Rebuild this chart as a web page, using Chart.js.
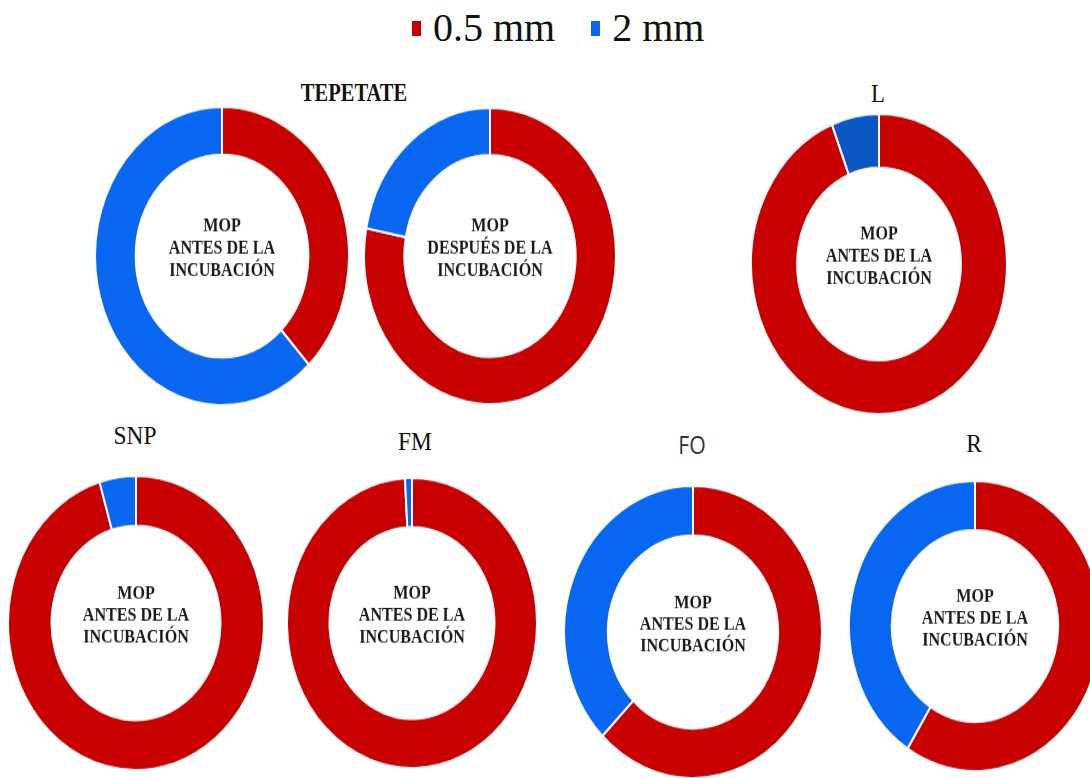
<!DOCTYPE html>
<html lang="es">

<head>
    <meta charset="UTF-8">
    <title>MOP 0.5 mm / 2 mm</title>
    <script src="https://cdn.jsdelivr.net/npm/chart.js"></script>
    <style>
        body {
            margin: 0;
            background: #fff;
        }

        #lienzo {
            position: relative;
            width: 1090px;
            height: 778px;
            overflow: hidden;
        }

        .dona {
            position: absolute;
            transform-origin: 50% 50%;
        }

        .titulo {
            position: absolute;
            line-height: 1;
            white-space: nowrap;
            color: #111;
            font-family: "Liberation Serif", "DejaVu Serif", serif;
        }

        #leyenda {
            position: absolute;
            left: 412px;
            top: 8px;
            display: flex;
            align-items: center;
            font-family: "Liberation Serif", serif;
            font-size: 40px;
            line-height: 1;
            color: #111;
        }

        #leyenda .item {
            display: flex;
            align-items: center;
            margin-right: 36px;
        }

        #leyenda .cuadro {
            width: 9px;
            height: 15px;
            margin-right: 12px;
        }
    </style>
</head>

<body>
    <div id="lienzo">
        <div id="leyenda"></div>
    </div>

    <script>
        // datos
        const categories = ['0.5 mm', '2 mm'];
        const titles = ['TEPETATE', 'L', 'SNP', 'FM', 'FO', 'R'];
        const centerLabels = [
            ['MOP', 'ANTES DE LA', 'INCUBACIÓN'],
            ['MOP', 'DESPUÉS DE LA', 'INCUBACIÓN'],
            ['MOP', 'ANTES DE LA', 'INCUBACIÓN'],
            ['MOP', 'ANTES DE LA', 'INCUBACIÓN'],
            ['MOP', 'ANTES DE LA', 'INCUBACIÓN'],
            ['MOP', 'ANTES DE LA', 'INCUBACIÓN'],
            ['MOP', 'ANTES DE LA', 'INCUBACIÓN']
        ];
        // % de cada fracción (0.5 mm, 2 mm) por dona
        const fine05 = [38, 78, 94, 95.4, 99.1, 62.4, 59];
        const coarse2 = [62, 22, 6, 4.6, 0.9, 37.6, 41];

        // estilos y posiciones
        const colorRed = '#c80000';
        const colorBlue = '#0866f0';
        const colorBlueL = '#0a58c4';
        const donutLayout = [
            { cx: 222, cy: 256, rx: 126, ry: 148, cutout: '68%', blue: colorBlue },
            { cx: 490, cy: 256, rx: 125, ry: 147, cutout: '68%', blue: colorBlue },
            { cx: 879, cy: 264, rx: 127, ry: 149, cutout: '64%', blue: colorBlueL },
            { cx: 136, cy: 623, rx: 127, ry: 146, cutout: '66%', blue: colorBlue },
            { cx: 412, cy: 623, rx: 124, ry: 144, cutout: '66%', blue: colorBlue },
            { cx: 693, cy: 632, rx: 128, ry: 145, cutout: '66%', blue: colorBlue },
            { cx: 975, cy: 626, rx: 125, ry: 144, cutout: '66%', blue: colorBlue }
        ];
        const titleLayout = [
            { x: 354, y: 92, size: 25, bold: true, sx: 0.82 },
            { x: 878, y: 94, size: 26, bold: false, sx: 0.88 },
            { x: 135, y: 436, size: 26, bold: false, sx: 0.9 },
            { x: 415, y: 442, size: 26, bold: false, sx: 0.9 },
            { x: 692, y: 444, size: 25, bold: false, sx: 0.85, sans: true },
            { x: 974, y: 444, size: 26, bold: false, sx: 0.9 }
        ];

        const lienzo = document.getElementById('lienzo');

        // leyenda
        const leyenda = document.getElementById('leyenda');
        [colorRed, colorBlue].forEach(function (c, i) {
            const item = document.createElement('div');
            item.className = 'item';
            item.innerHTML = '<span class="cuadro" style="background:' + c + '"></span><span>' + categories[i] + '</span>';
            leyenda.appendChild(item);
        });

        // títulos
        titles.forEach(function (t, i) {
            const p = titleLayout[i];
            const d = document.createElement('div');
            d.className = 'titulo';
            d.textContent = t;
            d.style.left = p.x + 'px';
            d.style.top = p.y + 'px';
            d.style.fontSize = p.size + 'px';
            d.style.fontWeight = p.bold ? 'bold' : 'normal';
            if (p.sans) {
                d.style.fontFamily = '"Open Sans", "Liberation Sans", sans-serif';
                d.style.color = '#333';
            }
            d.style.transform = 'translate(-50%, -50%) scaleX(' + p.sx + ')';
            lienzo.appendChild(d);
        });

        // texto del centro
        const centerText = {
            id: 'centerText',
            afterDraw(chart, args, opts) {
                const arc = chart.getDatasetMeta(0).data[0];
                if (!arc) return;
                const ctx = chart.ctx;
                ctx.save();
                ctx.fillStyle = '#1a1a1a';
                ctx.font = 'bold 17.5px "Liberation Serif"';
                ctx.textAlign = 'center';
                ctx.textBaseline = 'middle';
                const offsets = [-26, -7, 12];
                opts.lines.forEach(function (t, k) {
                    ctx.save();
                    ctx.translate(arc.x, arc.y + offsets[k]);
                    ctx.scale(0.92, 1);
                    ctx.fillText(t, 0, 0);
                    ctx.restore();
                });
                ctx.restore();
            }
        };

        const charts = [];
        donutLayout.forEach(function (p, i) {
            const size = 2 * p.rx + 4;
            const cv = document.createElement('canvas');
            cv.className = 'dona';
            cv.width = size;
            cv.height = size;
            cv.style.width = size + 'px';
            cv.style.height = size + 'px';
            cv.style.left = (p.cx - size / 2) + 'px';
            cv.style.top = (p.cy - size / 2) + 'px';
            cv.style.transform = 'scaleY(' + (p.ry / p.rx) + ')';
            lienzo.appendChild(cv);

            charts.push(new Chart(cv, {
                type: 'doughnut',
                data: {
                    labels: categories,
                    datasets: [{
                        label: '%',
                        data: [fine05[i], coarse2[i]],
                        backgroundColor: [colorRed, p.blue],
                        borderColor: '#ffffff',
                        borderWidth: 2
                    }]
                },
                options: {
                    responsive: false,
                    animation: false,
                    devicePixelRatio: 1,
                    cutout: p.cutout,
                    layout: { padding: 0 },
                    plugins: {
                        legend: { display: false },
                        tooltip: { enabled: false },
                        centerText: { lines: centerLabels[i] }
                    }
                },
                plugins: [centerText]
            }));
        });
    </script>
</body>

</html>
